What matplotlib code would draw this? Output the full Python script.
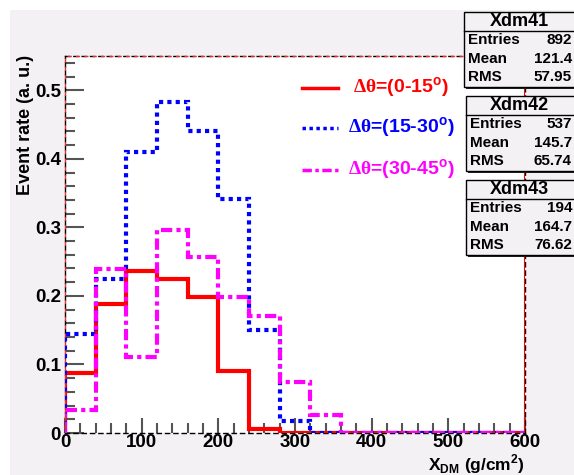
import numpy as np
import matplotlib.pyplot as plt
from matplotlib.patches import Rectangle
from matplotlib.lines import Line2D

plt.rcParams['font.family'] = 'Liberation Sans'
plt.rcParams['font.weight'] = 'bold'
plt.rcParams['mathtext.fontset'] = 'custom'
plt.rcParams['mathtext.rm'] = 'Liberation Serif'
plt.rcParams['mathtext.bf'] = 'Liberation Sans:bold'

# histogram contents, 40 g/cm2 bins from 0 to 600
edges = np.arange(0, 601, 40)
rate_0_15 = [0.087, 0.188, 0.236, 0.224, 0.198, 0.091, 0.006, 0, 0, 0, 0, 0, 0, 0, 0]
rate_15_30 = [0.144, 0.225, 0.410, 0.483, 0.441, 0.342, 0.150, 0.017, 0, 0, 0, 0, 0, 0, 0]
rate_30_45 = [0.034, 0.239, 0.111, 0.296, 0.257, 0.198, 0.171, 0.075, 0.026, 0, 0, 0, 0, 0, 0]

labels = [r'$\mathrm{\Delta\theta}$=(0-15$^{\mathbf{o}}$)',
          r'$\mathrm{\Delta\theta}$=(15-30$^{\mathbf{o}}$)',
          r'$\mathrm{\Delta\theta}$=(30-45$^{\mathbf{o}}$)']
colors = ['#ff0000', '#0000ff', '#ff00ff']
styles = ['-', (0, (1, 1)), (0, (2.7, 1, 1, 1))]

# stat box contents
hist_names = ['Xdm41', 'Xdm42', 'Xdm43']
entries = [892, 537, 194]
means = ['121.4', '145.7', '164.7']
rmss = ['57.95', '65.74', '76.62']

W, H = 574, 475
def fx(px):
    return px / W
def fy(py):
    return 1 - py / H

fig = plt.figure(figsize=(W / 100, H / 100), dpi=100)
fig.patch.set_facecolor('white')
fig.add_artist(Rectangle((fx(10), 0), 1, fy(10), transform=fig.transFigure,
                         facecolor='#f4f1f4', edgecolor='none', zorder=-10))

ax = fig.add_axes([fx(65), fy(433), fx(525) - fx(65), fy(56) - fy(433)])
ax.set_facecolor('white')

for vals, c, ls in zip([rate_0_15, rate_15_30, rate_30_45], colors, styles):
    ax.stairs(vals, edges, baseline=0, fill=False, color=c, lw=3, linestyle=ls, zorder=3)

ax.set_xlim(0, 600)
ax.set_ylim(0, 0.55)
ax.set_xticks(np.arange(0, 601, 100))
ax.set_xticks(np.arange(0, 601, 20), minor=True)
ax.set_yticks([0, 0.1, 0.2, 0.3, 0.4, 0.5])
ax.set_yticklabels(['0', '0.1', '0.2', '0.3', '0.4', '0.5'])
ax.set_yticks(np.arange(0, 0.551, 0.02), minor=True)
ax.tick_params(which='both', direction='in', color='#555555', width=1.5, labelsize=13.5)
ax.tick_params(axis='y', which='major', length=14, pad=3)
ax.tick_params(axis='y', which='minor', length=7)
ax.tick_params(axis='x', which='major', length=11, pad=1)
ax.tick_params(axis='x', which='minor', length=7)
for lab in ax.get_xticklabels() + ax.get_yticklabels():
    lab.set_fontweight('bold')

# frame: red and black dashed edges
for s in ax.spines.values():
    s.set_linewidth(1)
    s.set_color('black')
    s.set_linestyle((0, (3, 3)))
ax.plot([0, 0, 600], [0, 0.55, 0.55], color='#e03030', lw=1, linestyle=(3, (3, 3)),
        clip_on=False, zorder=4)
ax.axvline(600, color='#ff0000', lw=1.5, zorder=4)

fig.text(fx(25), fy(55), 'Event rate (a. u.)', rotation=90, ha='center', va='top',
         fontsize=13, fontweight='bold')
fig.text(fx(525), fy(464), r'X$_{\mathbf{DM}}$ (g/cm$^{\mathbf{2}}$)', ha='right', va='center',
         fontsize=12.5, fontweight='bold')

# legend entries
leg_y = [88, 128, 170]
for y, lab, c, ls in zip(leg_y, labels, colors, styles):
    fig.add_artist(Line2D([fx(302), fx(338)], [fy(y), fy(y)], color=c, lw=2.5, linestyle=ls,
                          transform=fig.transFigure))
    fig.text(fx(401), fy(y), lab, color=c, ha='center', va='center', fontsize=14,
             fontweight='bold')

# stat boxes
box_tops = [12, 96, 180]
box_left = [464, 466, 466]
for top, left, name, n, m, r in zip(box_tops, box_left, hist_names, entries, means, rmss):
    h = 75
    fig.add_artist(Rectangle((fx(left + 2), fy(top + h + 2)), fx(600) - fx(left), fy(top) - fy(top + h),
                             transform=fig.transFigure, facecolor='#222222', edgecolor='none', zorder=5))
    fig.add_artist(Rectangle((fx(left), fy(top + h)), fx(600) - fx(left), fy(top) - fy(top + h),
                             transform=fig.transFigure, facecolor='#f4f1f4', edgecolor='black',
                             lw=1, zorder=6))
    fig.add_artist(Line2D([fx(left), fx(600)], [fy(top + 19), fy(top + 19)], color='black', lw=1,
                          transform=fig.transFigure, zorder=7))
    fig.text(fx(519), fy(top + 9.5), name, ha='center', va='center', fontsize=13,
             fontweight='bold', zorder=8)
    for dy, key, val in [(28.5, 'Entries', str(n)), (47, 'Mean', m), (65, 'RMS', r)]:
        fig.text(fx(left + 4), fy(top + dy), key, ha='left', va='center', fontsize=11,
                 fontweight='bold', zorder=8)
        fig.text(fx(572), fy(top + dy), val, ha='right', va='center', fontsize=11,
                 fontweight='bold', zorder=8)

fig.savefig('out.png', dpi=100)
